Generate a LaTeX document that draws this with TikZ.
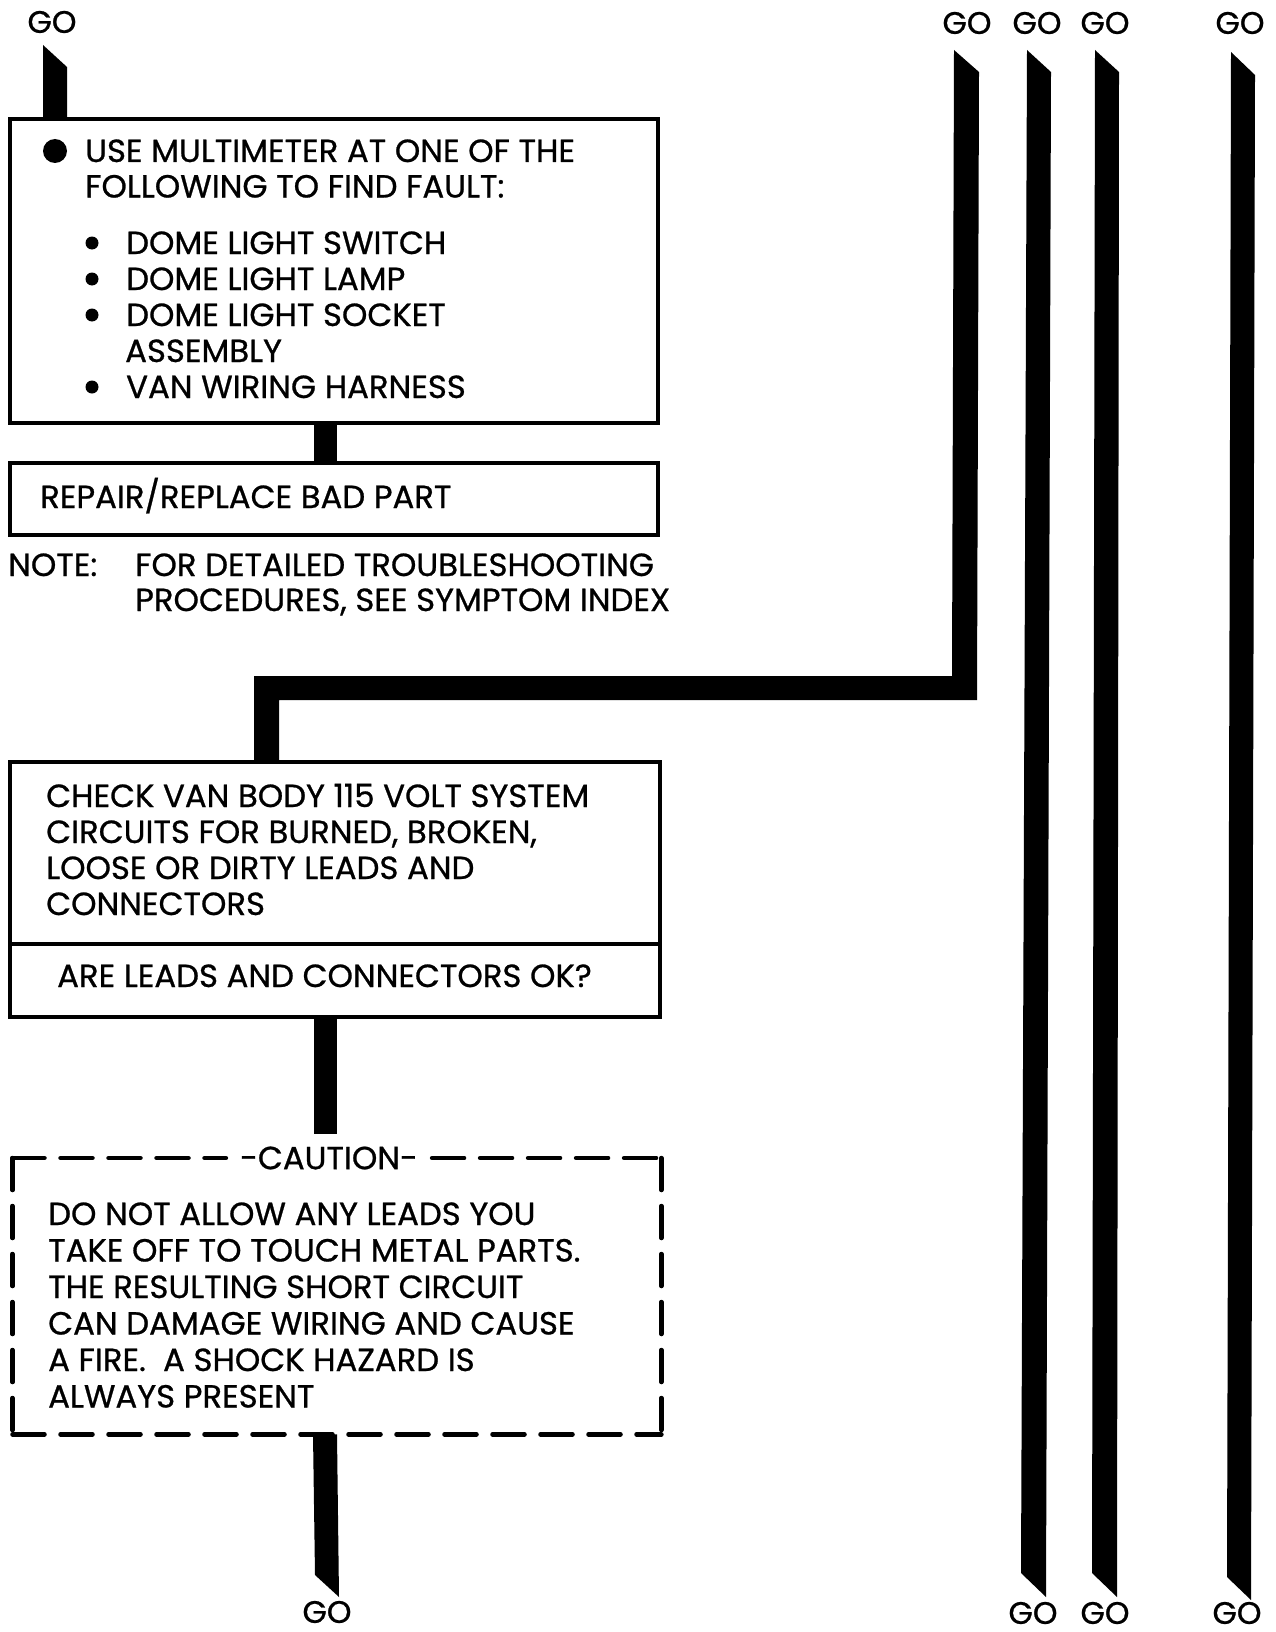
\documentclass[tikz,border=0pt]{standalone}
\usepackage{fontspec}
\setmainfont{Poppins}[FakeStretch=1.01,FakeBold=0.8]
\begin{document}
\begin{tikzpicture}[x=1pt,y=-1pt,
  box/.style={draw,line width=4pt,inner sep=0pt,anchor=north west},
  txt/.style={anchor=base west,inner sep=0pt,font=\fontsize{32}{38}\selectfont},
  golabel/.style={inner sep=0pt,font=\fontsize{31}{36}\selectfont},
  bar/.style={fill=black},
  conn/.style={line width=23pt},
  dsh/.style={line width=4.5pt,line cap=round,dash pattern=on 32pt off 16pt}]
\useasboundingbox[fill=white] (0,0) rectangle (1276,1632);

% ---------- GO labels ----------
\node[golabel] (goA) at (52,22) {GO};
\node[golabel] (goB) at (967,23) {GO};
\node[golabel] (goC) at (1037,23) {GO};
\node[golabel] (goD) at (1105,23) {GO};
\node[golabel] (goE) at (1240,23) {GO};
\node[golabel] (goF) at (327,1612) {GO};
\node[golabel] (goG) at (1033,1613) {GO};
\node[golabel] (goH) at (1105,1613) {GO};
\node[golabel] (goI) at (1237,1613) {GO};

% ---------- boxes ----------
\node[box,minimum width=648pt,minimum height=304pt] (b1) at (8,117) {};
\node[box,minimum width=648pt,minimum height=72pt] (b2) at (8,461) {};
\node[box,minimum width=650pt,minimum height=182pt] (b3) at (8,760) {};
\node[box,minimum width=650pt,minimum height=73pt] (b3q) at (8,942) {};
\node[inner sep=0pt,minimum width=648.5pt,minimum height=276pt,anchor=north west] (cau) at (12.5,1158) {};

% caution dashed frame
\node[inner sep=0pt,font=\fontsize{32}{38}\selectfont] (cautitle) at (329,1158) {-CAUTION-};
\draw[dsh] (cau.north west) -- ([xshift=-14pt]cautitle.west |- cau.north);
\draw[dsh] ([xshift=14pt]cautitle.east |- cau.north) -- (cau.north east);
\draw[dsh] (cau.north east) -- (cau.south east);
\draw[dsh] (cau.north west) -- (cau.south west);
\draw[dsh] (cau.south west) -- (cau.south east);

% ---------- text of box 1 ----------
\fill (55,151) circle (12);
\node[txt] (t1a) at (85,162) {USE MULTIMETER AT ONE OF THE};
\node[txt] (t1b) at (85,197.5) {FOLLOWING TO FIND FAULT:};
\fill (92,243) circle (6.5);
\fill (92,279) circle (6.5);
\fill (92,315) circle (6.5);
\fill (92,387) circle (6.5);
\node[txt] (t1c) at (126,254) {DOME LIGHT SWITCH};
\node[txt] (t1d) at (126,290) {DOME LIGHT LAMP};
\node[txt] (t1e) at (126,326) {DOME LIGHT SOCKET};
\node[txt] (t1f) at (125,362) {ASSEMBLY};
\node[txt] (t1g) at (126,398) {VAN WIRING HARNESS};

% ---------- box 2 and note ----------
\node[txt] (t2) at (40,508) {REPAIR/REPLACE BAD PART};
\node[txt] (n1) at (8,576) {NOTE:};
\node[txt] (n2) at (135,576) {FOR DETAILED TROUBLESHOOTING};
\node[txt] (n3) at (135,611) {PROCEDURES, SEE SYMPTOM INDEX};

% ---------- box 3 ----------
\node[txt] (t3a) at (46,807) {CHECK VAN BODY 115 VOLT SYSTEM};
\node[txt] (t3b) at (46,843) {CIRCUITS FOR BURNED, BROKEN,};
\node[txt] (t3c) at (46,879) {LOOSE OR DIRTY LEADS AND};
\node[txt] (t3d) at (46,915) {CONNECTORS};
\node[txt] (t3e) at (57,987) {ARE LEADS AND CONNECTORS OK?};

% ---------- caution text ----------
\node[txt] (c1) at (48,1225) {DO NOT ALLOW ANY LEADS YOU};
\node[txt] (c2) at (48,1261.5) {TAKE OFF TO TOUCH METAL PARTS.};
\node[txt] (c3) at (48,1298) {THE RESULTING SHORT CIRCUIT};
\node[txt] (c4) at (48,1334.5) {CAN DAMAGE WIRING AND CAUSE};
\node[txt] (c5) at (48,1371) {A FIRE.\ \ A SHOCK HAZARD IS};
\node[txt] (c6) at (48,1407.5) {ALWAYS PRESENT};

% ---------- connectors ----------
% left top GO to box 1
\fill[bar] (43,45) -- (67,67) -- (67,117 |- b1.north) -- (43,117 |- b1.north) -- cycle;
% box 1 to box 2
\draw[conn] (325.5,0 |- b1.south) -- (325.5,0 |- b2.north);
% GO (line 1) down, across, into box 3
\fill[bar] (954,50) -- (979,72) -- (977,700) -- (279,700) -- (279,0 |- b3.north) -- (254,0 |- b3.north) -- (254,676) -- (952,676) -- cycle;
% box 3 down to caution
\draw[conn] (325.5,0 |- b3q.south) -- (325.5,1134);
% caution down to GO
\fill[bar] (313,0 |- cau.south) -- (337,0 |- cau.south) -- (339,1597) -- (315,1575) -- cycle;
% through lines
\fill[bar] (1027,50) -- (1051,72) -- (1046,1597) -- (1021,1573) -- cycle;
\fill[bar] (1095,50) -- (1119,72) -- (1117,1597) -- (1092,1573) -- cycle;
\fill[bar] (1231,52) -- (1255,75) -- (1251,1600) -- (1227,1577) -- cycle;
\end{tikzpicture}
\end{document}
